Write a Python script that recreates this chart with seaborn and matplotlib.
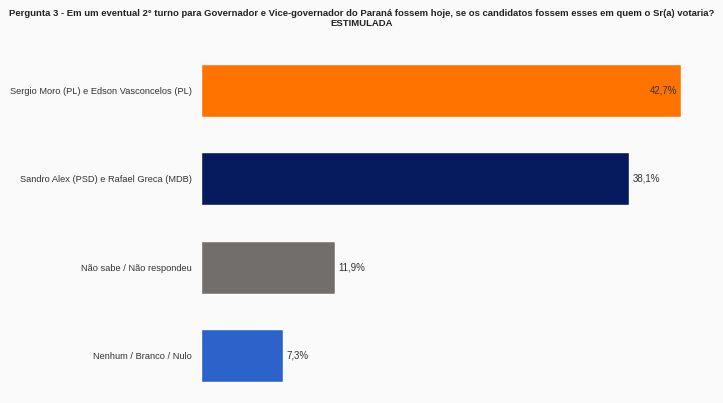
import matplotlib
matplotlib.use("Agg")
import matplotlib.pyplot as plt
import seaborn as sns
import pandas as pd

categories = ["Sergio Moro (PL) e Edson Vasconcelos (PL)",
              "Sandro Alex (PSD) e Rafael Greca (MDB)",
              "Não sabe / Não respondeu",
              "Nenhum / Branco / Nulo"]
values = [42.7, 38.1, 11.9, 7.3]
labels = ["42,7%", "38,1%", "11,9%", "7,3%"]
colors = ["#FF7300", "#061B5E", "#726E6C", "#2C62C9"]

sns.set_theme(style="white")
plt.rcParams['font.family'] = ['Liberation Sans', 'DejaVu Sans']

df = pd.DataFrame({"cat": categories, "val": values})

fig = plt.figure(figsize=(7.23, 4.03), dpi=100)
fig.patch.set_facecolor("#FAFAFA")
ax = fig.add_axes([201/723, 3/403, 1 - 201/723, 354/403])
ax.set_facecolor("none")
sns.barplot(data=df, x="val", y="cat", hue="cat", palette=colors, legend=False,
            width=0.6, ax=ax, saturation=1)
ax.set_xlim(0, 522/11.24)
ax.set_ylim(3.5, -0.5)
ax.set_xlabel("")
ax.set_ylabel("")
ax.set_xticks([])
ax.tick_params(axis="y", length=0, pad=6.5, labelsize=6.7, labelcolor="#333333")
for s in ax.spines.values():
    s.set_visible(False)

for i, (v, lab) in enumerate(zip(values, labels)):
    if i == 0:
        ax.text(v - 0.3, i, lab, ha="right", va="center", fontsize=7, color="#333333")
    else:
        ax.text(v + 0.3, i, lab, ha="left", va="center", fontsize=7, color="#333333")

fig.text(0.5, 1 - 13/403, "Pergunta 3 - Em um eventual 2° turno para Governador e Vice-governador do Paraná fossem hoje, se os candidatos fossem esses em quem o Sr(a) votaria?",
         ha="center", va="center", fontsize=6.8, fontweight="bold", color="#222222")
fig.text(0.5, 1 - 24/403, "ESTIMULADA", ha="center", va="center", fontsize=6.8,
         fontweight="bold", color="#222222")

fig.savefig("out.png", dpi=100, facecolor=fig.get_facecolor())
